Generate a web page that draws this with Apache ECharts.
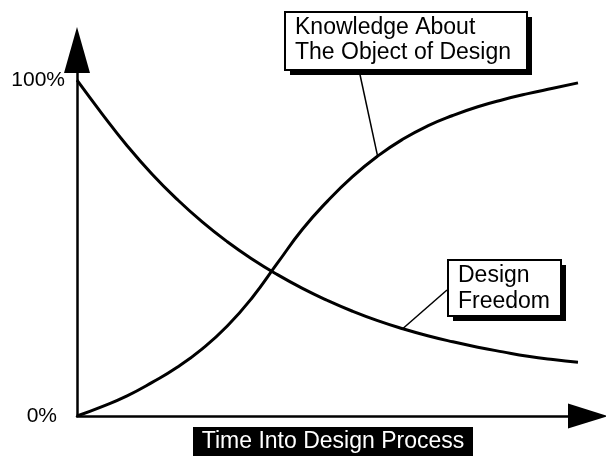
<!DOCTYPE html>
<html>
<head>
<meta charset="UTF-8">
<title>Design Freedom vs Knowledge</title>
<script src="https://cdn.jsdelivr.net/npm/echarts@6/dist/echarts.min.js"></script>
<style>
  html, body { margin: 0; padding: 0; background: #fff; }
  #chart { width: 606px; height: 456px; }
</style>
</head>
<body>
<div id="chart"></div>
<script>
// time into design process (0..100, step 5) and percentages
var timePoints = [0, 5, 10, 15, 20, 25, 30, 35, 40, 45, 50, 55, 60, 65, 70, 75, 80, 85, 90, 95, 100];
var knowledge = [0, 2.8, 6.0, 10.0, 14.5, 20.0, 26.8, 35.3, 45.5, 55.6, 64.0, 71.3, 77.4, 82.4, 86.4, 89.5, 92.1, 94.2, 96.0, 97.6, 99.2];
var freedom = [100, 90, 80.5, 72, 64.5, 57.8, 51.9, 46.7, 42.1, 38.0, 34.4, 31.2, 28.4, 26.0, 23.9, 22.1, 20.5, 19.1, 17.8, 16.8, 16.0];

var yTicks = [0, 100];
var knowledgeLabel = 'Knowledge About\nThe Object of Design';
var freedomLabel = 'Design\nFreedom';
var xTitle = 'Time Into Design Process';

function pairs(xs, ys) {
    return xs.map(function (x, i) { return [x, ys[i]]; });
}

var FONT = '"Liberation Sans", Arial, sans-serif';
var chart = echarts.init(document.getElementById('chart'));

var option = {
    animation: false,
    grid: { left: 77, right: 18, top: 50, bottom: 40 },
    xAxis: {
        type: 'value',
        min: 0,
        max: 102,
        axisLine: {
            show: true,
            symbol: ['none', 'triangle'],
            symbolSize: [25, 40],
            lineStyle: { color: '#000', width: 2.5 }
        },
        axisTick: { show: false },
        axisLabel: { show: false },
        splitLine: { show: false }
    },
    yAxis: {
        type: 'value',
        min: 0,
        max: 109,
        interval: 100,
        axisLine: {
            show: true,
            symbol: ['none', 'triangle'],
            symbolSize: [26, 46],
            lineStyle: { color: '#000', width: 2.5 }
        },
        axisTick: { show: false },
        splitLine: { show: false },
        axisLabel: {
            margin: 12,
            color: '#000',
            fontSize: 21,
            fontFamily: FONT,
            formatter: function (v) {
                if (v === yTicks[0]) return '{z|' + v + '%}';
                if (v === yTicks[1]) return v + '%';
                return '';
            },
            rich: {
                z: { fontSize: 21, fontFamily: FONT, color: '#000', padding: [0, 8, 0, 0] }
            }
        }
    },
    series: [
        {
            name: 'Knowledge',
            type: 'line',
            data: pairs(timePoints, knowledge),
            smooth: 0.5,
            showSymbol: false,
            lineStyle: { color: '#000', width: 3 },
            z: 5
        },
        {
            name: 'Design Freedom',
            type: 'line',
            data: pairs(timePoints, freedom),
            smooth: 0.5,
            showSymbol: false,
            lineStyle: { color: '#000', width: 3 },
            z: 5
        }
    ]
};
chart.setOption(option);

// callout boxes with drop shadows, leader lines hooked to points on the curves
var kPt = chart.convertToPixel({ gridIndex: 0 }, [timePoints[12], knowledge[12]]);
var fPt = chart.convertToPixel({ gridIndex: 0 }, [timePoints[13], freedom[13]]);

function calloutBox(x, y, w, h, text, lineH) {
    return {
        type: 'group',
        x: x,
        y: y,
        children: [
            { type: 'rect', shape: { x: 5, y: 5, width: w, height: h }, style: { fill: '#000' } },
            { type: 'rect', shape: { x: 0, y: 0, width: w, height: h }, style: { fill: '#fff', stroke: '#000', lineWidth: 2 } },
            {
                type: 'text',
                x: 10,
                y: 3,
                style: { text: text, font: '23px ' + FONT, fill: '#000', lineHeight: lineH }
            }
        ]
    };
}

chart.setOption({
    graphic: [
        {
            type: 'line',
            shape: { x1: 359, y1: 70, x2: kPt[0], y2: kPt[1] },
            style: { stroke: '#000', lineWidth: 1.5 },
            z: 10
        },
        {
            type: 'line',
            shape: { x1: 447, y1: 290, x2: fPt[0], y2: fPt[1] },
            style: { stroke: '#000', lineWidth: 1.5 },
            z: 10
        },
        Object.assign(calloutBox(285, 12, 242, 58, knowledgeLabel, 25), { z: 20 }),
        Object.assign(calloutBox(448, 260, 113, 56, freedomLabel, 26), { z: 20 }),
        {
            type: 'group',
            x: 193,
            y: 427,
            z: 20,
            children: [
                { type: 'rect', shape: { x: 0, y: 0, width: 280, height: 30 }, style: { fill: '#000' } },
                {
                    type: 'text',
                    x: 140,
                    y: 15,
                    style: {
                        text: xTitle,
                        font: '23px ' + FONT,
                        fill: '#fff',
                        textAlign: 'center',
                        textVerticalAlign: 'middle'
                    }
                }
            ]
        }
    ]
});
</script>
</body>
</html>
